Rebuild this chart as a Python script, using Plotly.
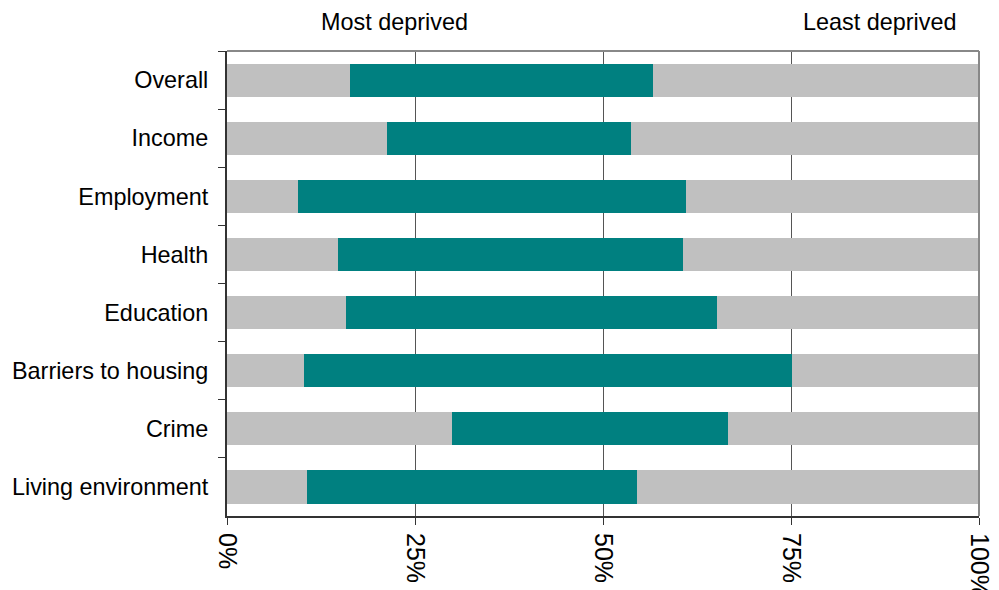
import plotly.graph_objects as go

categories = ["Overall", "Income", "Employment", "Health", "Education",
              "Barriers to housing", "Crime", "Living environment"]
# start and end (percent) of the middle (teal) segment
seg_start = [16.3, 21.3, 9.5, 14.8, 15.8, 10.2, 29.9, 10.6]
seg_end = [56.7, 53.7, 61.0, 60.7, 65.1, 75.1, 66.6, 54.5]
tick_vals = [0, 25, 50, 75, 100]
tick_text = ["0%", "25%", "50%", "75%", "100%"]

left = seg_start
mid = [e - s for s, e in zip(seg_start, seg_end)]
right = [100 - e for e in seg_end]

GRAY = "#C0C0C0"
TEAL = "#008080"

fig = go.Figure()
for vals, col in [(left, GRAY), (mid, TEAL), (right, GRAY)]:
    fig.add_trace(go.Bar(y=categories, x=vals, orientation="h",
                         marker=dict(color=col, line=dict(width=0)),
                         showlegend=False, hoverinfo="skip"))

font = dict(family="Liberation Sans, Arial, sans-serif", size=23.4, color="#000")
fig.update_layout(
    barmode="stack", bargap=0.43,
    width=999, height=590,
    margin=dict(l=227, r=20, t=51, b=74),
    plot_bgcolor="white", paper_bgcolor="white",
    font=font,
    xaxis=dict(range=[0, 100], tickvals=tick_vals, ticktext=tick_text,
               tickangle=90, showgrid=True, gridcolor="#555", gridwidth=1,
               showline=True, linecolor="#333", linewidth=2,
               ticks="outside", ticklen=7, tickcolor="#333",
               zeroline=False, tickfont=dict(size=25), automargin=False,
               ticklabelstandoff=3),
    yaxis=dict(categoryorder="array", categoryarray=categories,
               autorange="reversed", showline=True, linecolor="#333",
               linewidth=2, ticks="outside", ticklen=7, tickcolor="#333",
               tickson="boundaries", showgrid=False, tickfont=dict(size=23.4),
               automargin=False, ticklabelstandoff=12),
    annotations=[
        dict(text="Most deprived", x=22.3, y=1.0, xref="x", yref="paper",
             yanchor="middle", yshift=29, showarrow=False, font=font),
        dict(text="Least deprived", x=86.8, y=1.0, xref="x", yref="paper",
             yanchor="middle", yshift=29, showarrow=False, font=font),
    ],
    shapes=[
        dict(type="line", xref="paper", yref="paper", x0=0, x1=1, y0=1, y1=1,
             line=dict(color="#888", width=2)),
        dict(type="line", xref="paper", yref="paper", x0=1, x1=1, y0=0, y1=1,
             line=dict(color="#888", width=2)),
    ],
)
fig.write_html("out.html", full_html=True, include_plotlyjs=True,
               config={"displayModeBar": False},
               post_script="document.body.style.margin='0';")
